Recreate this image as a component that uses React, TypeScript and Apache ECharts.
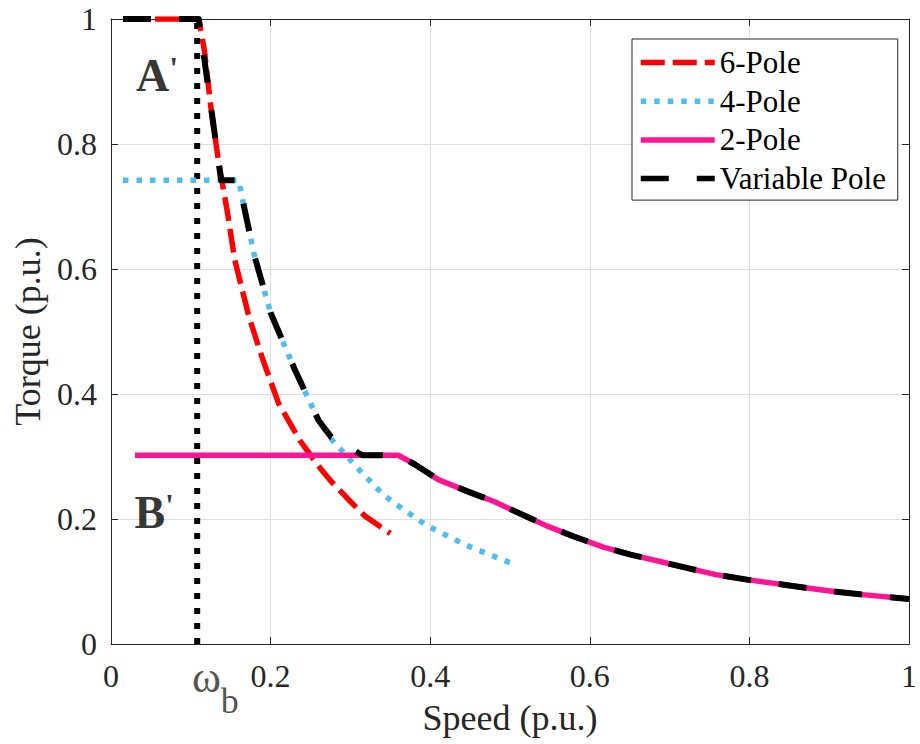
import React, { useEffect, useRef } from "react";
import * as echarts from "echarts";

// ---- data ----
const speed6 = [0.015, 0.11, 0.117, 0.125, 0.135, 0.146, 0.155, 0.173, 0.19, 0.21, 0.237, 0.263, 0.276, 0.3, 0.318, 0.35];
const torque6 = [1, 1, 0.95, 0.86, 0.77, 0.69, 0.615, 0.523, 0.456, 0.385, 0.325, 0.28, 0.26, 0.228, 0.205, 0.177];

const speed4 = [0.015, 0.16, 0.165, 0.18, 0.2, 0.23, 0.26, 0.276, 0.31, 0.335, 0.35, 0.395, 0.445, 0.5];
const torque4 = [0.742, 0.742, 0.71, 0.62, 0.53, 0.44, 0.358, 0.328, 0.28, 0.247, 0.23, 0.19, 0.158, 0.13];

const speed2 = [0.03, 0.36, 0.38, 0.41, 0.445, 0.48, 0.5, 0.546, 0.58, 0.617, 0.651, 0.688, 0.724, 0.758, 0.797, 0.831, 0.87, 0.906, 0.942, 1.0];
const torque2 = [0.302, 0.302, 0.288, 0.263, 0.245, 0.228, 0.216, 0.189, 0.172, 0.155, 0.143, 0.132, 0.121, 0.111, 0.103, 0.097, 0.09, 0.084, 0.079, 0.072];

const speedVar = [0.015, 0.11, 0.138, 0.16, 0.165, 0.18, 0.2, 0.23, 0.26, 0.276, 0.315, 0.36, 0.38, 0.41, 0.445, 0.48, 0.5, 0.546, 0.58, 0.617, 0.651, 0.688, 0.724, 0.758, 0.797, 0.831, 0.87, 0.906, 0.942, 1.0];
const torqueVar = [1, 1, 0.742, 0.742, 0.71, 0.62, 0.53, 0.44, 0.358, 0.331, 0.302, 0.302, 0.288, 0.263, 0.245, 0.228, 0.216, 0.189, 0.172, 0.155, 0.143, 0.132, 0.121, 0.111, 0.103, 0.097, 0.09, 0.084, 0.079, 0.072];

const baseSpeed = 0.108; // ω_b
const baseLineTorque = [0, 1];

const seriesNames = ["6-Pole", "4-Pole", "2-Pole", "Variable Pole"];
const xTicks = { min: 0, max: 1, interval: 0.2 };
const yTicks = { min: 0, max: 1, interval: 0.2 };

// annotations: A', B', ω_b
const annoSpeed = [0.032, 0.03, 0.102];
const annoTorque = [0.909, 0.21, 0.013];

const FONT = "Liberation Serif";
const AXIS_COLOR = "#262626";

function pairs(xs: number[], ys: number[]) {
  return xs.map((x, i) => [x, ys[i]]);
}

export default function App() {
  const ref = useRef<HTMLDivElement>(null);
  useEffect(() => {
    document.body.style.margin = "0";
    const chart = echarts.init(ref.current!, undefined, { renderer: "svg" });
    const tickLabel = { fontFamily: FONT, fontSize: 32, color: AXIS_COLOR };
    const nameStyle = { fontFamily: FONT, fontSize: 36, color: AXIS_COLOR };
    const primeRich = {
      a: { fontFamily: FONT, fontSize: 46, fontWeight: "bold", color: "#000" },
      p: { fontFamily: FONT, fontSize: 32, fontWeight: "bold", color: "#000", verticalAlign: "top" },
    };
    const option: any = {
      animation: false,
      backgroundColor: "#ffffff",
      textStyle: { fontFamily: FONT },
      grid: { left: 111, right: 4, top: 19, bottom: 100 },
      legend: {
        data: seriesNames,
        orient: "vertical",
        left: 632,
        top: 39,
        padding: [8, 8, 6, 6],
        itemGap: 7.7,
        itemWidth: 74,
        itemHeight: 14,
        backgroundColor: "#ffffff",
        borderColor: AXIS_COLOR,
        borderWidth: 1,
        borderRadius: 0,
        itemStyle: { opacity: 0 },
        lineStyle: { width: 5.5 },
        textStyle: { fontFamily: FONT, fontSize: 31, color: "#000", lineHeight: 30, width: 170 },
      },
      xAxis: [
        {
          type: "value",
          ...xTicks,
          name: "Speed (p.u.)",
          nameLocation: "middle",
          nameGap: 56,
          nameTextStyle: nameStyle,
          axisLine: { show: true, onZero: false, lineStyle: { color: AXIS_COLOR, width: 1 } },
          axisTick: { show: true, inside: true, length: 7, lineStyle: { color: AXIS_COLOR } },
          axisLabel: { ...tickLabel, margin: 16 },
          splitLine: { show: true, lineStyle: { color: "#dfdfdf", width: 1 } },
        },
        {
          type: "value",
          ...xTicks,
          position: "top",
          axisLine: { show: true, onZero: false, lineStyle: { color: AXIS_COLOR, width: 1 } },
          axisTick: { show: true, inside: true, length: 7, lineStyle: { color: AXIS_COLOR } },
          axisLabel: { show: false },
          splitLine: { show: false },
        },
      ],
      yAxis: [
        {
          type: "value",
          ...yTicks,
          name: "Torque (p.u.)",
          nameLocation: "middle",
          nameGap: 60,
          nameTextStyle: nameStyle,
          axisLine: { show: true, onZero: false, lineStyle: { color: AXIS_COLOR, width: 1 } },
          axisTick: { show: true, inside: true, length: 7, lineStyle: { color: AXIS_COLOR } },
          axisLabel: { ...tickLabel, margin: 14 },
          splitLine: { show: true, lineStyle: { color: "#dfdfdf", width: 1 } },
        },
        {
          type: "value",
          ...yTicks,
          position: "right",
          axisLine: { show: true, onZero: false, lineStyle: { color: AXIS_COLOR, width: 1 } },
          axisTick: { show: true, inside: true, length: 7, lineStyle: { color: AXIS_COLOR } },
          axisLabel: { show: false },
          splitLine: { show: false },
        },
      ],
      series: [
        {
          name: "ωb line",
          type: "line",
          data: [[baseSpeed, baseLineTorque[0]], [baseSpeed, baseLineTorque[1]]],
          symbol: "none",
          clip: false,
          lineStyle: { color: "#000", width: 6, type: [6, 9], cap: "butt" },
          z: 2,
        },
        {
          name: seriesNames[0],
          type: "line",
          data: pairs(speed6, torque6),
          symbol: "none",
          color: "#ff0000",
          lineStyle: { color: "#ff0000", width: 5.5, type: [24, 8], cap: "butt", join: "round" },
          z: 3,
        },
        {
          name: seriesNames[1],
          type: "line",
          data: pairs(speed4, torque4),
          symbol: "none",
          color: "#4dbeee",
          lineStyle: { color: "#4dbeee", width: 5.5, type: [5.5, 8], cap: "butt", join: "round" },
          z: 4,
        },
        {
          name: seriesNames[2],
          type: "line",
          data: pairs(speed2, torque2),
          symbol: "none",
          color: "#ff1493",
          lineStyle: { color: "#ff1493", width: 5.5, type: "solid", cap: "butt" },
          z: 5,
        },
        {
          name: seriesNames[3],
          type: "line",
          data: pairs(speedVar, torqueVar),
          symbol: "none",
          color: "#000000",
          lineStyle: { color: "#000000", width: 6, type: [28, 28], cap: "butt", join: "round" },
          z: 6,
        },
        {
          name: "annotations",
          type: "scatter",
          symbolSize: 1,
          clip: false,
          silent: true,
          itemStyle: { color: "rgba(0,0,0,0)" },
          z: 10,
          data: [
            {
              value: [annoSpeed[0], annoTorque[0]],
              label: {
                show: true,
                position: [0, 0],
                align: "left",
                verticalAlign: "middle",
                formatter: "{a|A}{p|'}",
                rich: primeRich,
              },
            },
            {
              value: [annoSpeed[1], annoTorque[1]],
              label: {
                show: true,
                position: [0, 0],
                align: "left",
                verticalAlign: "middle",
                formatter: "{a|B}{p|'}",
                rich: primeRich,
              },
            },
            {
              value: [annoSpeed[2], annoTorque[2]],
              label: {
                show: true,
                position: [0, 0],
                align: "left",
                verticalAlign: "top",
                formatter: "{w|ω}{b|b}",
                rich: {
                  w: { fontFamily: FONT, fontSize: 44, color: AXIS_COLOR, verticalAlign: "middle", lineHeight: 84 },
                  b: { fontFamily: FONT, fontSize: 36, color: AXIS_COLOR, verticalAlign: "bottom", lineHeight: 40 },
                },
              },
            },
          ],
        },
      ],
    };
    chart.setOption(option);
    return () => chart.dispose();
  }, []);
  return <div ref={ref} style={{ width: 920, height: 744 }} />;
}
